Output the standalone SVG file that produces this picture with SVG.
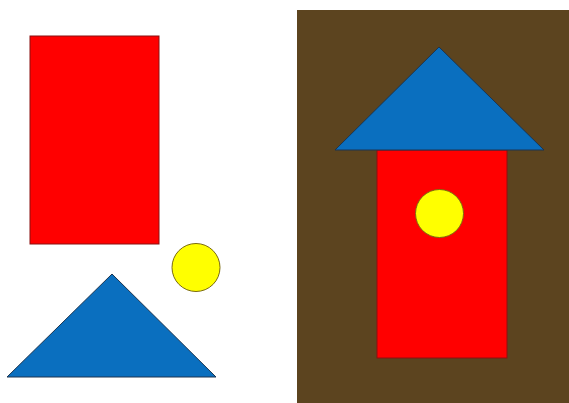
<svg xmlns="http://www.w3.org/2000/svg" width="569" height="403" viewBox="0 0 569 403">
<style>
.red{fill:#ff0000;stroke:#8a1010;stroke-width:1}
.blue{fill:#0a6fbf;stroke:#1c3550;stroke-width:1}
.yel{fill:#ffff00;stroke:#7a6a10;stroke-width:1}
</style>
<rect x="0" y="0" width="569" height="403" fill="#ffffff"/>
<g id="left">
<rect class="red" x="30" y="36" width="129" height="208"/>
<circle class="yel" cx="196" cy="267.5" r="24"/>
<polygon class="blue" points="112,274 216,377 7,377"/>
</g>
<g id="right">
<rect x="297" y="10" width="272" height="393" fill="#5c441f"/>
<rect class="red" x="377" y="150" width="130" height="208"/>
<polygon class="blue" points="439,47 544,150 335,150"/>
<circle class="yel" cx="439.5" cy="213.5" r="24"/>
</g>
</svg>
